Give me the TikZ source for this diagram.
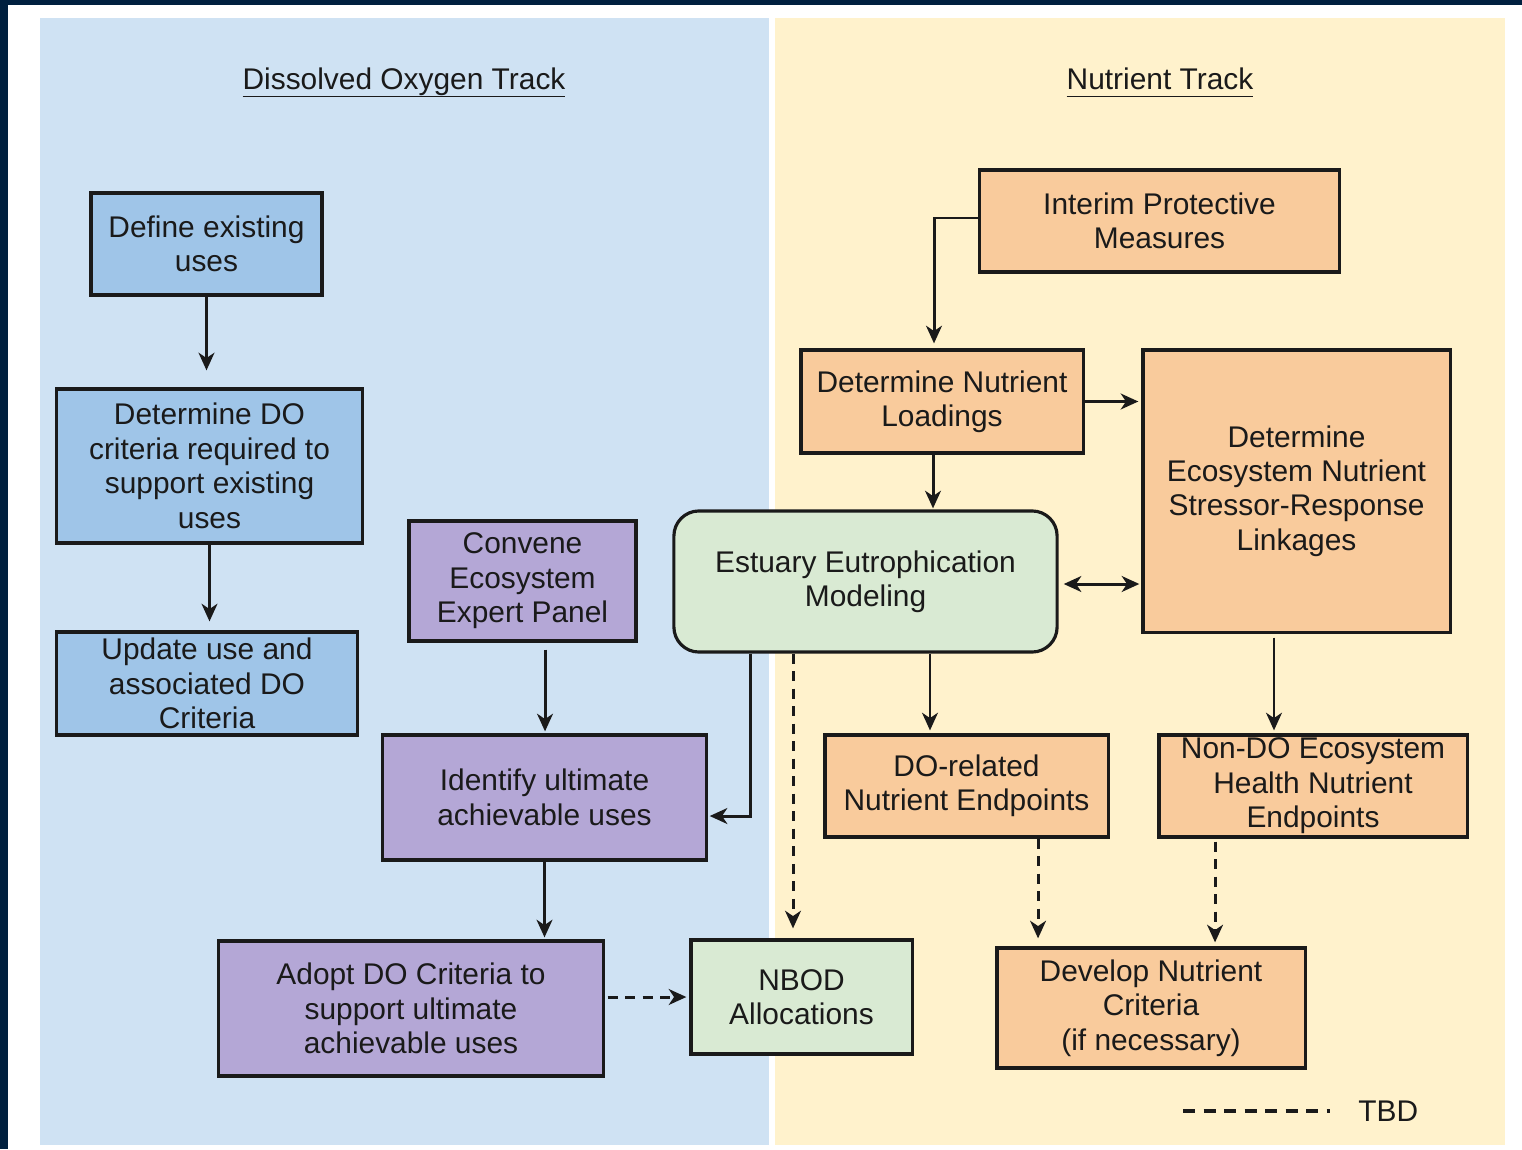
\documentclass[tikz,border=0pt]{standalone}
\usepackage{fontspec}
\setmainfont{Liberation Sans}
\usetikzlibrary{arrows.meta}

\definecolor{navy}{HTML}{00203F}
\definecolor{dopanel}{HTML}{CFE2F3}
\definecolor{nutpanel}{HTML}{FFF2CC}
\definecolor{dobox}{HTML}{9FC5E8}
\definecolor{uaabox}{HTML}{B4A7D6}
\definecolor{modelbox}{HTML}{D9EAD3}
\definecolor{nutbox}{HTML}{F9CB9C}
\definecolor{ink}{HTML}{1A1A1A}

% underlined heading, rule kept at one height under both tracks
\newcommand{\tracktitle}[1]{\underline{\raisebox{0pt}[\height][0.5pt]{#1}}}

\tikzset{
    box/.style={draw=ink, line width=0.9pt, align=center, inner sep=0pt,
        text=ink, font=\fontsize{8.5}{9.8}\selectfont},
    doblue/.style={box, fill=dobox},
    uaapurple/.style={box, fill=uaabox},
    modelgreen/.style={box, fill=modelbox},
    nutorange/.style={box, fill=nutbox},
    arr/.style={draw=ink, line width=0.85pt, -{Stealth[length=5pt, width=4.5pt, inset=1.5pt]}},
    dasharr/.style={arr, dash pattern=on 0.1cm off 0.075cm},
    title/.style={text=ink, font=\fontsize{8.5}{9.8}\selectfont}
}

\begin{document}
\begin{tikzpicture}[x=0.01cm, y=-0.01cm]
    \useasboundingbox (0,0) rectangle (1522,1149);
    % frame and the two tracks
    \fill[white] (0,0) rectangle (1522,1149);
    \fill[navy] (0,0) rectangle (1522,5);
    \fill[navy] (0,0) rectangle (8,1149);
    \fill[dopanel] (40,18) rectangle (769,1145);
    \fill[nutpanel] (775,18) rectangle (1505,1145);

    \node[title, anchor=base] (dotitle) at (404,90) {\tracktitle{Dissolved Oxygen Track}};
    \node[title, anchor=base] (nuttitle) at (1160,90) {\tracktitle{Nutrient Track}};

    % dissolved oxygen track
    \node[doblue, minimum width=2.31cm, minimum height=1.02cm] (defuse) at (206.5,244) {Define existing\\uses};
    \node[doblue, minimum width=3.05cm, minimum height=1.54cm] (detdo) at (209.5,466) {Determine DO\\criteria required to\\support existing\\uses};
    \node[doblue, minimum width=3.00cm, minimum height=1.03cm] (update) at (207,683.5) {Update use and\\associated DO\\Criteria};
    \node[uaapurple, minimum width=2.27cm, minimum height=1.20cm] (convene) at (522.5,581) {Convene\\Ecosystem\\Expert Panel};
    \node[uaapurple, minimum width=3.23cm, minimum height=1.25cm] (identify) at (544.5,797.5) {Identify ultimate\\achievable uses};
    \node[uaapurple, minimum width=3.84cm, minimum height=1.35cm] (adopt) at (411,1008.5) {Adopt DO Criteria to\\support ultimate\\achievable uses};
    \node[modelgreen, minimum width=2.21cm, minimum height=1.14cm] (nbod) at (801.5,997) {NBOD\\Allocations};

    % nutrient track
    \node[modelgreen, rounded corners=0.25cm, minimum width=3.83cm, minimum height=1.41cm] (model) at (865.5,581.5) {Estuary Eutrophication\\Modeling};
    \node[nutorange, minimum width=3.59cm, minimum height=1.02cm] (interim) at (1159.5,221) {Interim Protective\\Measures};
    \node[nutorange, minimum width=2.82cm, minimum height=1.03cm] (loadings) at (942,401.5) {Determine Nutrient\\Loadings};
    \node[nutorange, minimum width=3.07cm, minimum height=2.82cm] (linkages) at (1296.5,491) {Determine\\Ecosystem Nutrient\\Stressor-Response\\Linkages};
    \node[nutorange, minimum width=2.83cm, minimum height=1.02cm] (dorel) at (966.5,786) {DO-related\\Nutrient Endpoints};
    \node[nutorange, minimum width=3.08cm, minimum height=1.02cm] (nondo) at (1313,786) {Non-DO Ecosystem\\Health Nutrient\\Endpoints};
    \node[nutorange, minimum width=3.08cm, minimum height=1.20cm] (develop) at (1151,1008) {Develop Nutrient\\Criteria\\(if necessary)};

    % legend
    \node[title, anchor=west] (tbd) at (1346,1111) {TBD};
    \coordinate (tbdstart) at (1183,1111);

    % connectors
    \draw[arr, shorten >=0.17cm] (defuse.south) -- (defuse.south |- detdo.north);
    \draw[arr, shorten >=0.09cm] (detdo.south) -- (detdo.south |- update.north);
    \draw[arr, shorten <=0.07cm, shorten >=0.02cm] ([xshift=0.225cm]convene.south) -- ([xshift=0.225cm]convene.south |- identify.north);
    \draw[arr, shorten >=0.02cm] (identify.south) -- (identify.south |- adopt.north);
    \draw[arr, shorten >=0.02cm] ([xshift=0.78cm]model.south west) |- ([yshift=-0.185cm]identify.east);
    \draw[dasharr, shorten >=0.1cm] ([xshift=-0.085cm]nbod.north |- model.south) -- ([xshift=-0.085cm]nbod.north);
    \draw[dasharr, shorten <=0.03cm, shorten >=0.03cm] (nbod.west -| adopt.east) -- (nbod.west);

    \draw[arr, shorten >=0.05cm] ([yshift=0.03cm]interim.west) -| ([xshift=-0.08cm]loadings.north);
    \draw[arr, shorten >=0.01cm] ([xshift=-0.09cm]loadings.south) -- ([xshift=-0.09cm]loadings.south |- model.north);
    \draw[arr, shorten >=0.03cm] (loadings.east) -- (loadings.east -| linkages.west);
    \draw[arr, {Stealth[length=5pt, width=4.5pt, inset=1.5pt]}-{Stealth[length=5pt, width=4.5pt, inset=1.5pt]}, shorten <=0.05cm, shorten >=0.02cm] ([yshift=-0.025cm]model.east) -- ([yshift=-0.025cm]model.east -| linkages.west);
    \draw[arr, shorten >=0.03cm] ([xshift=-0.365cm]dorel.north |- model.south) -- ([xshift=-0.365cm]dorel.north);
    \draw[arr, shorten <=0.04cm, shorten >=0.03cm] ([xshift=-0.39cm]nondo.north |- linkages.south) -- ([xshift=-0.39cm]nondo.north);
    \draw[dasharr, shorten >=0.08cm] ([xshift=0.715cm]dorel.south) -- ([xshift=0.715cm]dorel.south |- develop.north);
    \draw[dasharr, shorten <=0.03cm, shorten >=0.04cm] ([xshift=0.64cm]develop.north |- nondo.south) -- ([xshift=0.64cm]develop.north);

    \draw[draw=ink, line width=0.9pt, dash pattern=on 0.12cm off 0.085cm, shorten >=0.16cm] (tbdstart) -- (tbd.west);
\end{tikzpicture}
\end{document}
